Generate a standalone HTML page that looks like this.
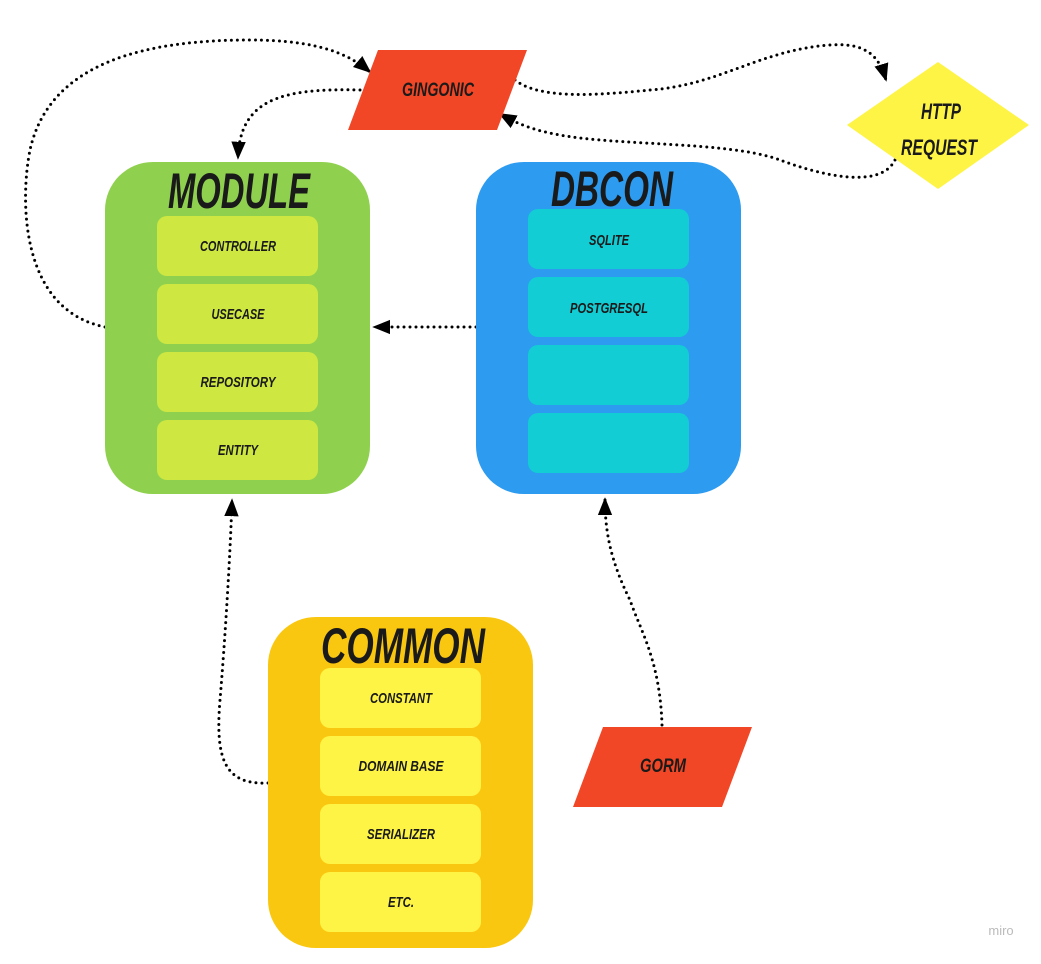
<!DOCTYPE html>
<html><head><meta charset="utf-8"><style>
body{margin:0;background:#fff;width:1041px;height:959px;overflow:hidden}
text{font-family:"Liberation Sans Narrow","Liberation Sans",sans-serif;font-weight:bold;font-style:italic;fill:#1a1a1a;text-anchor:middle}
.s{font-size:15px}
.t{font-size:50px}
</style></head><body>
<svg width="1041" height="959" viewBox="0 0 1041 959" xmlns="http://www.w3.org/2000/svg">
<defs>
<marker id="b" viewBox="0 0 10 10" refX="9" refY="5" markerWidth="18" markerHeight="18" orient="auto" markerUnits="userSpaceOnUse">
<path d="M0,1 L10,5 L0,9 z" fill="#000"/></marker>
</defs>
<g fill="none" stroke="#000" stroke-width="3" stroke-linecap="round" stroke-dasharray="0 6">
<path d="M105,327 C20,310 20,200 30,150 C50,60 150,40 250,40 C320,40 350,55 370,72" marker-end="url(#b)"/>
<path d="M360,90 C280,88 240,100 238,158" marker-end="url(#b)"/>
<path d="M515,80 C540,100 600,95 650,90 C720,85 760,50 830,45 C870,42 880,60 886,80" marker-end="url(#b)"/>
<path d="M895,160 C880,190 820,175 780,160 C740,145 660,145 600,140 C540,135 520,125 500,114" marker-end="url(#b)"/>
<path d="M476,327 L374,327" marker-end="url(#b)"/>
<path d="M268,783 C225,785 215,760 220,700 C225,640 230,560 232,500" marker-end="url(#b)"/>
<path d="M662,725 C660,660 640,630 630,600 C610,560 605,530 605,499" marker-end="url(#b)"/>
</g>
<polygon points="378,50 527,50 497,130 348,130" fill="#f24726"/>
<text x="438" y="96" style="font-size:19px" textLength="72" lengthAdjust="spacingAndGlyphs">GINGONIC</text>
<polygon points="603,727 752,727 722,807 573,807" fill="#f24726"/>
<text x="663" y="772" style="font-size:19px" textLength="46" lengthAdjust="spacingAndGlyphs">GORM</text>
<polygon points="938,62 1029,125 938,189 847,125" fill="#fef445"/>
<text x="941" y="119" style="font-size:22px" textLength="40" lengthAdjust="spacingAndGlyphs">HTTP</text>
<text x="939" y="155" style="font-size:22px" textLength="76" lengthAdjust="spacingAndGlyphs">REQUEST</text>

<rect x="105" y="162" width="265" height="332" rx="48" fill="#8fd14f"/>
<text x="239" y="208" class="t" textLength="142" lengthAdjust="spacingAndGlyphs">MODULE</text>
<g fill="#cee741">
<rect x="157" y="216" width="161" height="60" rx="10"/>
<rect x="157" y="284" width="161" height="60" rx="10"/>
<rect x="157" y="352" width="161" height="60" rx="10"/>
<rect x="157" y="420" width="161" height="60" rx="10"/>
</g>
<text x="238" y="251" class="s" textLength="76" lengthAdjust="spacingAndGlyphs">CONTROLLER</text>
<text x="238" y="319" class="s" textLength="53" lengthAdjust="spacingAndGlyphs">USECASE</text>
<text x="238" y="387" class="s" textLength="75" lengthAdjust="spacingAndGlyphs">REPOSITORY</text>
<text x="238" y="455" class="s" textLength="40" lengthAdjust="spacingAndGlyphs">ENTITY</text>

<rect x="476" y="162" width="265" height="332" rx="48" fill="#2d9bf0"/>
<text x="612" y="206" class="t" textLength="122" lengthAdjust="spacingAndGlyphs">DBCON</text>
<g fill="#12cdd4">
<rect x="528" y="209" width="161" height="60" rx="10"/>
<rect x="528" y="277" width="161" height="60" rx="10"/>
<rect x="528" y="345" width="161" height="60" rx="10"/>
<rect x="528" y="413" width="161" height="60" rx="10"/>
</g>
<text x="609" y="245" class="s" textLength="40" lengthAdjust="spacingAndGlyphs">SQLITE</text>
<text x="609" y="313" class="s" textLength="78" lengthAdjust="spacingAndGlyphs">POSTGRESQL</text>

<rect x="268" y="617" width="265" height="331" rx="48" fill="#fac710"/>
<text x="403" y="663" class="t" textLength="164" lengthAdjust="spacingAndGlyphs">COMMON</text>
<g fill="#fef445">
<rect x="320" y="668" width="161" height="60" rx="10"/>
<rect x="320" y="736" width="161" height="60" rx="10"/>
<rect x="320" y="804" width="161" height="60" rx="10"/>
<rect x="320" y="872" width="161" height="60" rx="10"/>
</g>
<text x="401" y="703" class="s" textLength="62" lengthAdjust="spacingAndGlyphs">CONSTANT</text>
<text x="401" y="771" class="s" textLength="85" lengthAdjust="spacingAndGlyphs">DOMAIN BASE</text>
<text x="401" y="839" class="s" textLength="68" lengthAdjust="spacingAndGlyphs">SERIALIZER</text>
<text x="401" y="907" class="s" textLength="26" lengthAdjust="spacingAndGlyphs">ETC.</text>

<text x="1001" y="935" style="font-family:'Liberation Sans',sans-serif;font-style:normal;font-weight:normal;font-size:13px;fill:#bbb">miro</text>
</svg>
</body></html>
